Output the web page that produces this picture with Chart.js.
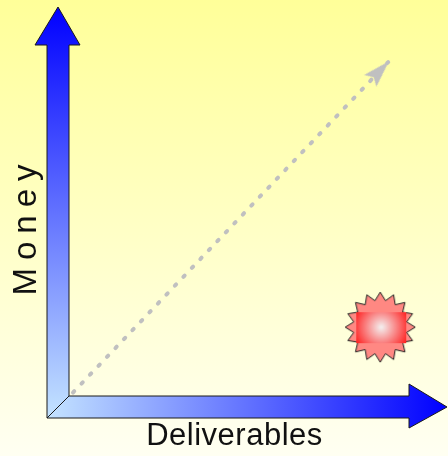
<!DOCTYPE html>
<html>
<head>
<meta charset="utf-8">
<script src="https://cdn.jsdelivr.net/npm/chart.js@4.4.1/dist/chart.umd.min.js"></script>
<style>
  html, body { margin: 0; padding: 0; background: #fffff0; }
  #wrap { width: 448px; height: 456px; position: relative; }
</style>
</head>
<body>
<div id="wrap"><canvas id="diagram"></canvas></div>
<script>
// trend (dotted arrow) and project position, in axis units 0..100
const trendDeliverables = [6.5, 85.3];
const trendMoney = [6.2, 86.6];
const projectDeliverables = [83.3];
const projectMoney = [22.1];
const xLabel = 'Deliverables';
const yLabel = 'Money';

// arrowhead for the dotted line, tip at canvas centre, pointing up
function makeArrowHead() {
  const c = document.createElement('canvas');
  c.width = 64; c.height = 64;
  const g = c.getContext('2d');
  g.fillStyle = '#c0c0c0';
  g.beginPath();
  g.moveTo(32, 31);
  g.lineTo(40.5, 58);
  g.lineTo(32, 53);
  g.lineTo(23.5, 58);
  g.closePath();
  g.fill();
  return c;
}

// red starburst with gradient rectangle
function makeStarburst() {
  const c = document.createElement('canvas');
  c.width = 80; c.height = 80;
  const g = c.getContext('2d');
  const cx = 40, cy = 40, n = 16, R = 35, r = 27;
  g.beginPath();
  for (let i = 0; i < n * 2; i++) {
    const a = -Math.PI / 2 + i * Math.PI / n;
    const rr = i % 2 === 0 ? R : r;
    const px = cx + rr * Math.cos(a), py = cy + rr * Math.sin(a);
    if (i === 0) g.moveTo(px, py); else g.lineTo(px, py);
  }
  g.closePath();
  g.fillStyle = 'rgba(255, 115, 115, 0.85)';
  g.fill();
  g.lineWidth = 1;
  g.strokeStyle = '#202020';
  g.stroke();
  const rg = g.createRadialGradient(cx + 1, cy, 1, cx + 1, cy, 30);
  rg.addColorStop(0, '#f4eaea');
  rg.addColorStop(1, '#ff1a1a');
  g.fillStyle = rg;
  g.fillRect(cx - 24, cy - 15, 50, 31);
  return c;
}

const backdrop = {
  id: 'backdrop',
  beforeDraw(chart) {
    const { ctx, width, height } = chart;
    const bg = ctx.createLinearGradient(0, 0, 0, height);
    bg.addColorStop(0, '#ffff99');
    bg.addColorStop(1, '#fffff2');
    ctx.save();
    ctx.fillStyle = bg;
    ctx.fillRect(0, 0, width, height);
    ctx.restore();
  }
};

const axisArrows = {
  id: 'axisArrows',
  beforeDatasetsDraw(chart) {
    const { ctx, chartArea: a } = chart;
    const L = a.left, B = a.bottom, T = a.top, R = a.right;
    const w = 22, head = 12, headLen = 38;
    ctx.save();
    ctx.lineWidth = 1;
    ctx.strokeStyle = '#1a1a1a';
    ctx.lineJoin = 'miter';

    // horizontal arrow (Deliverables)
    const hg = ctx.createLinearGradient(L, 0, R, 0);
    hg.addColorStop(0, '#c4e4ff');
    hg.addColorStop(1, '#0000ff');
    ctx.beginPath();
    ctx.moveTo(L, B);
    ctx.lineTo(R - headLen, B);
    ctx.lineTo(R - headLen, B + 10);
    ctx.lineTo(R, B - w / 2);
    ctx.lineTo(R - headLen, B - w - head);
    ctx.lineTo(R - headLen, B - w);
    ctx.lineTo(L + w, B - w);
    ctx.closePath();
    ctx.fillStyle = hg;
    ctx.fill();
    ctx.stroke();

    // vertical arrow (Money)
    const vg = ctx.createLinearGradient(0, B, 0, T);
    vg.addColorStop(0, '#c4e4ff');
    vg.addColorStop(1, '#0000ff');
    ctx.beginPath();
    ctx.moveTo(L, B);
    ctx.lineTo(L, T + headLen);
    ctx.lineTo(L - head, T + headLen);
    ctx.lineTo(L + w / 2, T);
    ctx.lineTo(L + w + 11, T + headLen);
    ctx.lineTo(L + w, T + headLen);
    ctx.lineTo(L + w, B - w);
    ctx.closePath();
    ctx.fillStyle = vg;
    ctx.fill();
    ctx.stroke();

    // labels
    ctx.fillStyle = '#111';
    ctx.font = '31px "Liberation Sans", Arial, sans-serif';
    ctx.textAlign = 'center';
    ctx.textBaseline = 'alphabetic';
    ctx.letterSpacing = '0.5px';
    ctx.fillText(xLabel, 234.5, B + 27);

    ctx.save();
    ctx.font = '33px "Liberation Sans", Arial, sans-serif';
    ctx.translate(36, 230);
    ctx.rotate(-Math.PI / 2);
    ctx.letterSpacing = '8px';
    ctx.fillText(yLabel, 4, 0);
    ctx.restore();

    ctx.restore();
  }
};

const arrowHead = makeArrowHead();
const starburst = makeStarburst();

new Chart(document.getElementById('diagram'), {
  type: 'scatter',
  data: {
    datasets: [
      {
        label: 'Trend',
        data: trendDeliverables.map((d, i) => ({ x: d, y: trendMoney[i] })),
        showLine: true,
        borderColor: '#c0c0c0',
        borderWidth: 4,
        borderDash: [1.8, 10.5],
        borderCapStyle: 'round',
        pointStyle: [false, arrowHead],
        pointRadius: [0, 10],
        pointRotation: [0, 43.7],
        pointHoverRadius: 0
      },
      {
        label: 'Project',
        data: projectDeliverables.map((d, i) => ({ x: d, y: projectMoney[i] })),
        pointStyle: starburst,
        pointRadius: 35
      }
    ]
  },
  options: {
    responsive: true,
    maintainAspectRatio: false,
    animation: false,
    layout: { autoPadding: false, padding: { left: 47, right: 1, top: 7, bottom: 38 } },
    scales: {
      x: { type: 'linear', min: 0, max: 100, display: false },
      y: { type: 'linear', min: 0, max: 100, display: false }
    },
    plugins: {
      legend: { display: false },
      tooltip: { enabled: false }
    },
    events: []
  },
  plugins: [backdrop, axisArrows]
});
</script>
</body>
</html>
